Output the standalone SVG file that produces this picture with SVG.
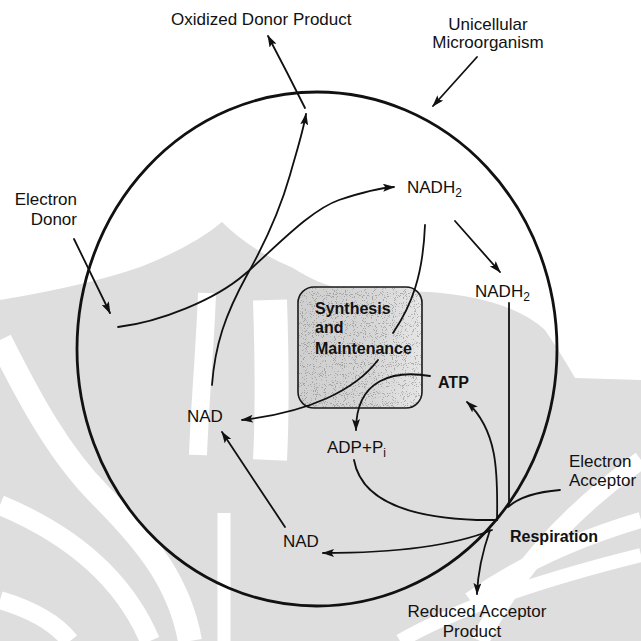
<svg xmlns="http://www.w3.org/2000/svg" width="641" height="641" viewBox="0 0 641 641">
<style>
.t{font-family:"Liberation Sans",Arial,sans-serif;font-size:17px;fill:#111}
.b{font-weight:bold;font-size:16px}
.c{fill:none;stroke:#111;stroke-width:1.8;stroke-linecap:round}
.wm{fill:none;stroke:#fff}
</style>
<defs>
<marker id="ah" viewBox="0 0 12 8" refX="11" refY="4" markerWidth="12" markerHeight="8" orient="auto" markerUnits="userSpaceOnUse">
<path d="M0,0 L12,4 L0,8 L2.5,4 Z" fill="#111"/>
</marker>
<linearGradient id="boxg" x1="0" y1="0" x2="1" y2="0">
<stop offset="0" stop-color="#cfcfcf"/>
<stop offset="0.6" stop-color="#d6d6d6"/>
<stop offset="1" stop-color="#e6e6e6"/>
</linearGradient>
<filter id="speck" x="0" y="0" width="100%" height="100%">
<feTurbulence type="fractalNoise" baseFrequency="1.1" numOctaves="1" seed="7"/>
<feColorMatrix type="matrix" values="0 0 0 0 0.15  0 0 0 0 0.15  0 0 0 0 0.15  0 0 0 -18 7.2"/>
<feComposite in2="SourceGraphic" operator="in"/>
</filter>
</defs>
<rect width="641" height="641" fill="#fff"/>
<g id="watermark">
<path d="M0,300 Q90,285 143,266 Q195,245 222,222 Q250,250 293,268 Q320,285 340,288 L430,292 Q510,298 545,330 Q565,360 575,378 L641,380 L641,641 L0,641 Z" fill="#dedede"/>
<path class="wm" stroke-width="18" d="M207,293 C205,350 200,400 198,455"/>
<path class="wm" stroke-width="34" d="M270,300 C272,360 272,420 270,460"/>
<path class="wm" stroke-width="13" d="M224,513 L224,641"/>
<path class="wm" stroke-width="24" d="M0,340 C30,400 60,455 100,495 C150,545 180,585 190,641"/>
<path class="wm" stroke-width="20" d="M0,505 C60,530 120,570 150,641"/>
<path class="wm" stroke-width="18" d="M0,600 Q50,615 70,641"/>
<path class="wm" stroke-width="18" d="M480,641 Q530,540 641,460"/>
<path class="wm" stroke-width="16" d="M470,600 Q540,550 641,520"/>
<path class="wm" stroke-width="14" d="M400,641 Q480,595 641,555"/>
</g>
<g id="cell">
<ellipse cx="317" cy="349" rx="240" ry="257" fill="none" stroke="#111" stroke-width="2.8"/>
</g>
<g id="synthesis">
<rect x="298" y="287" width="124" height="121" rx="16" fill="url(#boxg)"/>
<rect x="298" y="287" width="124" height="121" rx="16" fill="#000" filter="url(#speck)" opacity="0.45"/>
<rect x="298" y="287" width="124" height="121" rx="16" fill="none" stroke="#1a1a1a" stroke-width="1.6"/>
<text class="t b" x="315" y="314">Synthesis</text>
<text class="t b" x="315" y="333">and</text>
<text class="t b" x="315" y="354">Maintenance</text>
</g>
<g id="connectors">
<path class="c" d="M305,108 Q287,72 268,36" marker-end="url(#ah)"/>
<path class="c" d="M477,57 L433,106" marker-end="url(#ah)"/>
<path class="c" d="M74,239 L110,313" marker-end="url(#ah)"/>
<path class="c" d="M118,327 C160,322 215,300 245,274 C275,248 310,210 339,200 C360,193 378,188 394,187" marker-end="url(#ah)"/>
<path class="c" d="M212,385 C215,345 225,315 247,275 C265,243 280,210 290,175 C297,150 303,132 306,114" marker-end="url(#ah)"/>
<path class="c" d="M455,221 L500,272" marker-end="url(#ah)"/>
<path class="c" d="M425,225 C423,275 412,305 393,333"/>
<path class="c" d="M378,360 C355,390 310,412 242,420" marker-end="url(#ah)"/>
<path class="c" d="M430,376 C395,370 356,378 356,430" marker-end="url(#ah)"/>
<path class="c" stroke-width="1.3" d="M509,303 L509,505"/>
<path class="c" d="M354,460 C362,505 420,518 477,520 L497,520"/>
<path class="c" d="M497,520 C498,470 497,430 467,402" marker-end="url(#ah)"/>
<path class="c" d="M560,490 C535,492 518,498 508,507"/>
<path class="c" d="M492,530 C455,545 400,553 323,553" marker-end="url(#ah)"/>
<path class="c" d="M490,530 C483,550 478,570 477,594" marker-end="url(#ah)"/>
<path class="c" d="M285,527 L222,432" marker-end="url(#ah)"/>
</g>
<g id="labels">
<text class="t" x="171" y="25">Oxidized Donor Product</text>
<text class="t" x="488" y="30" text-anchor="middle">Unicellular</text>
<text class="t" x="488" y="48" text-anchor="middle">Microorganism</text>
<text class="t" x="77" y="205" text-anchor="end">Electron</text>
<text class="t" x="77" y="225" text-anchor="end">Donor</text>
<text class="t" x="407" y="193">NADH<tspan font-size="12" dy="4">2</tspan></text>
<text class="t" x="475" y="297">NADH<tspan font-size="12" dy="4">2</tspan></text>
<text class="t b" x="438" y="388">ATP</text>
<text class="t" x="187" y="422">NAD</text>
<text class="t" x="327" y="453">ADP+P<tspan font-size="12" dy="4">i</tspan></text>
<text class="t" x="283" y="547">NAD</text>
<text class="t" x="569" y="467">Electron</text>
<text class="t" x="569" y="486">Acceptor</text>
<text class="t b" x="510" y="542">Respiration</text>
<text class="t" x="477" y="617" text-anchor="middle">Reduced Acceptor</text>
<text class="t" x="472" y="637" text-anchor="middle">Product</text>
</g>
</svg>
